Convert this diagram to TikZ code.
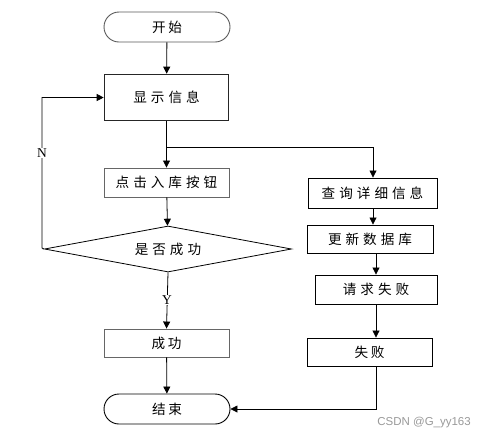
\documentclass[tikz,border=0pt]{standalone}
\usepackage{fontspec}
\setmainfont{Liberation Serif}
\newfontfamily\cjk{Noto Sans CJK SC}
\newfontfamily\wmfont{Liberation Sans}
\usetikzlibrary{arrows.meta,shapes.geometric}
\newcommand\gp{\hspace{4pt}}
\newcommand\gq{\hspace{2.6pt}}
\begin{document}
\begin{tikzpicture}[x=1pt,y=-1pt,
  every node/.style={font=\cjk\fontsize{13.6}{15}\selectfont, inner sep=0pt},
  terminal/.style={draw=black!65, line width=0.9pt, rounded corners=15pt, minimum width=126pt, minimum height=30pt},
  procbox/.style={draw=black, line width=0.9pt, minimum width=125pt, minimum height=29pt},
  arrow/.style={draw=black, line width=0.8pt, -{Triangle[length=7pt,width=7pt]}},
  lbl/.style={font=\fontsize{13.5}{15}\selectfont, fill=white, inner sep=1pt}
]
\useasboundingbox (0,0) rectangle (486,440);
\node[terminal] (start) at (167,27) {开\gq 始};
\node[procbox, line width=1.6pt, draw=black!85, minimum width=124pt, minimum height=46pt] (disp) at (166.5,97.5) {显\gp 示\gp 信\gp 息};
\node[procbox, draw=black!60] (click) at (166.5,182.5) {点\gp 击\gp 入\gp 库\gp 按\gp 钮};
\node[diamond, draw=black, line width=0.8pt, minimum width=247pt, minimum height=46pt, aspect=5] (dia) at (168,249) {是\gp 否\gp 成\gp 功};
\node[procbox, draw=black!60, minimum height=28pt] (succ) at (166.5,343) {成\gq 功};
\node[terminal, draw=black] (end) at (167,409) {结\gq 束};
\node[procbox, minimum width=129pt, minimum height=30pt] (query) at (372.5,193) {查\gp 询\gp 详\gp 细\gp 信\gp 息};
\node[procbox, minimum width=126pt, minimum height=28pt] (upd) at (370,239) {更\gp 新\gp 数\gp 据\gp 库};
\node[procbox, minimum width=122pt, minimum height=29pt] (req) at (376,289.5) {请\gp 求\gp 失\gp 败};
\node[procbox, minimum width=125pt, minimum height=28pt] (fail) at (369.5,352) {失\gq 败};
\coordinate (br) at (167,147);
\coordinate (loopc) at (42,248);
\coordinate (qtop) at (373,147);
\draw[arrow] (start) -- (disp);
\draw[arrow] (disp) -- (click);
\draw[arrow] (br) -- (qtop) -- (qtop |- query.north);
\draw[arrow] (click) -- (dia);
\draw[arrow] (dia.west) -- (loopc) |- (disp.west);
\node[lbl] (nlab) at (42,153) {N};
\draw[arrow] (dia.south) -- (succ.north);
\node[lbl] (ylab) at (167,300) {Y};
\draw[arrow] (succ) -- (end);
\draw[arrow] (qtop |- query.south) -- (qtop |- upd.north);
\draw[arrow] (req.north |- upd.south) -- (req.north);
\draw[arrow] (req.south) -- (req.south |- fail.north);
\draw[arrow] (req.south |- fail.south) |- (end.east);
\node[font=\wmfont\fontsize{11.5}{13}\selectfont, text=black!40, anchor=east] (wm) at (471,423) {CSDN @G\_yy163};
\end{tikzpicture}
\end{document}
